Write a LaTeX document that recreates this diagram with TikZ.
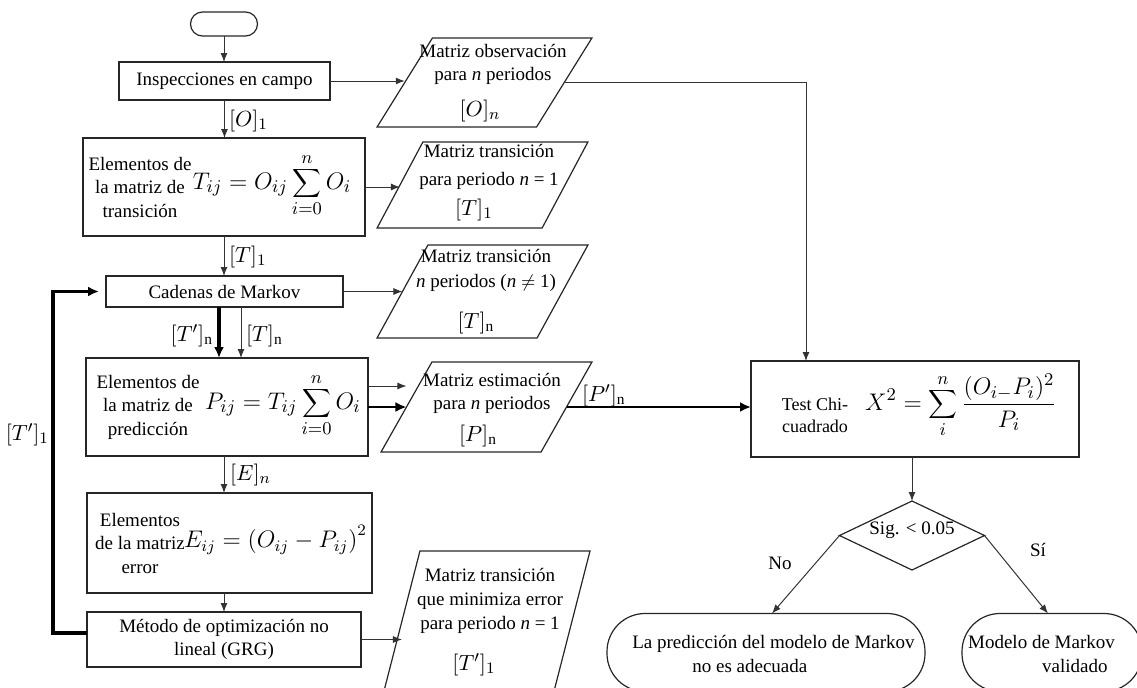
\documentclass[tikz,border=0pt]{standalone}
\usepackage{fontspec}
\setmainfont{Liberation Serif}
\newfontfamily\tnr{Liberation Serif}
\usetikzlibrary{shapes.geometric,arrows.meta}
\begin{document}
\begin{tikzpicture}[x=0.5pt,y=-0.5pt,
  every node/.style={inner sep=0pt, outer sep=0pt},
  txt/.style={font=\tnr\fontsize{9.5}{11.75}\selectfont, align=center},
  small/.style={font=\tnr\fontsize{9}{11}\selectfont},
  lbl/.style={font=\fontsize{11}{13}\selectfont},
  fml/.style={font=\fontsize{12.5}{14}\selectfont},
  box/.style={draw=black!85, line width=0.6pt, rectangle},
  io/.style={draw=black!85, line width=0.6pt, trapezium, trapezium stretches=true, inner sep=3pt},
  flow/.style={draw=black!80, line width=0.5pt, -{Latex[length=4.5pt,width=3.5pt]}},
  thickflow/.style={draw=black, line width=1.6pt, line join=miter, -{Latex[length=5.5pt,width=5pt]}},
]
\useasboundingbox (0,0) rectangle (1137,687);
\clip (0,0) rectangle (1137,687);

% ---- process column ----
\node[box, minimum width=33.5pt, minimum height=12pt, rounded corners=6pt] (start) at (224,24) {};
\node[box, txt, minimum width=105.5pt, minimum height=19pt] (insp) at (224.5,81) {Inspecciones en campo};

\node[box, minimum width=141pt, minimum height=49pt] (trans) at (224,187) {};
\node[txt] (transtx) at (140,187) {Elementos de\\la matriz de\\transición};
\node[fml] (transf) at (272,185) {$\displaystyle T_{ij} = O_{ij}\sum_{i=0}^{n} O_i$};

\node[box, txt, minimum width=118.5pt, minimum height=15.5pt] (markov) at (224.5,291.5) {Cadenas de Markov};

\node[box, minimum width=141pt, minimum height=49pt] (pred) at (227,407) {};
\node[txt] (predtx) at (148,407) {Elementos de\\la matriz de\\predicción};
\node[fml] (predf) at (283,405) {$\displaystyle P_{ij} = T_{ij}\sum_{i=0}^{n} O_i$};

\node[box, minimum width=142.5pt, minimum height=50pt] (err) at (229.5,543) {};
\node[txt] (errtx) at (140,543) {Elementos\\de la matriz\\error};
\node[fml, font=\fontsize{11.5}{14}\selectfont, anchor=east] (errf) at (367,540) {$E_{ij} = \bigl(O_{ij} - P_{ij}\bigr)^2$};

\node[box, txt, minimum width=137pt, minimum height=27.5pt] (opt) at (224,639.5) {Método de optimización no\\lineal (GRG)};

% ---- data (input/output) shapes ----
\node[io, trapezium left angle=62, trapezium right angle=118, minimum width=107.5pt, minimum height=44.5pt] (obs) at (484.5,82.5) {};
\node[txt, font=\tnr\fontsize{9.5}{11.5}\selectfont] (obstx) at (493,64.5) {Matriz observación\\para \textit{n} periodos};
\node[lbl] (obsl) at (480,111) {$[O]_n$};

\node[io, trapezium left angle=69, trapezium right angle=111, minimum width=105.5pt, minimum height=43pt] (tr1) at (482.5,185) {};
\node[txt, font=\tnr\fontsize{9.5}{14}\selectfont] (tr1tx) at (489,167) {Matriz transición\\para periodo \textit{n} = 1};
\node[lbl] (tr1l) at (474,210) {$[T]_1$};

\node[io, trapezium left angle=65, trapezium right angle=115, minimum width=105.5pt, minimum height=46.5pt] (trn) at (482.5,291.5) {};
\node[txt, font=\tnr\fontsize{9.5}{12.5}\selectfont] (trntx) at (486,270.5) {Matriz transición\\\textit{n} periodos (\textit{n} $\neq$ 1)};
\node[lbl] (trnl) at (476,323) {$[T]_{\mathrm{n}}$};

\node[io, trapezium left angle=65, trapezium right angle=115, minimum width=105.5pt, minimum height=45pt] (est) at (486.5,407) {};
\node[txt, font=\tnr\fontsize{9.5}{11.5}\selectfont] (esttx) at (492,393.5) {Matriz estimación\\para \textit{n} periodos};
\node[lbl] (estl) at (478,436) {$[P]_{\mathrm{n}}$};

\node[io, trapezium left angle=75, trapezium right angle=105, minimum width=103pt, minimum height=70pt] (tmin) at (487,621) {};
\node[txt, font=\tnr\fontsize{9.5}{12}\selectfont] (tmintx) at (490,601) {Matriz transición\\que minimiza error\\para periodo \textit{n} = 1};
\node[lbl] (tminl) at (474,665) {$[T']_1$};

% ---- validation ----
\node[box, minimum width=164pt, minimum height=48pt] (test) at (915,409) {};
\node[txt, small] (testtx) at (815,415) {Test Chi-\\cuadrado};
\node[fml] (testf) at (961,406) {$\displaystyle X^2 = \sum_{i}^{n}\frac{(O_{i-}P_i)^2}{P_i}$};

\node[draw=black!85, line width=0.6pt, diamond, minimum width=72.5pt, minimum height=34.5pt] (dia) at (912,535.5) {};
\node[txt] (diatx) at (912,530) {Sig. < 0.05};

\node[box, rounded corners=19pt, minimum width=159pt, minimum height=39pt] (termL) at (766,652.5) {};
\node[txt, align=left] (termLtx) at (773.5,654) {La predicción del modelo de Markov\\\hspace*{30pt}no es adecuada};
\node[box, rounded corners=19pt, minimum width=90pt, minimum height=39pt] (termR) at (1052,652.5) {};
\node[txt, align=left] (termRtx) at (1041.5,654) {Modelo de Markov\\\hspace*{37pt}validado};

\node[txt] (lno) at (780,563) {No};
\node[txt] (lsi) at (1038,550) {Sí};

% ---- connectors ----
\draw[flow] (start.south) -- (start.south |- insp.north);
\draw[flow] (insp.south) -- (insp.south |- trans.north);
\node[lbl, anchor=west] (lO1) at (229,121) {$[O]_1$};
\draw[flow] (insp.east) -- (insp.east -| obs.west);
\draw[flow] (trans.east) -- (trans.east -| tr1.west);
\draw[flow] (trans.south) -- (trans.south |- markov.north);
\node[lbl, anchor=west] (lT1) at (229,257) {$[T]_1$};
\draw[flow] (markov.east) -- (markov.east -| trn.west);

\draw[thickflow] ([xshift=-2.75pt]markov.south) -- ([xshift=-2.75pt]markov.south |- pred.north);
\node[lbl, anchor=east] (lTpn) at (213,336) {$[T']_{\mathrm{n}}$};
\draw[flow] ([xshift=8.25pt]markov.south) -- ([xshift=8.25pt]markov.south |- pred.north);
\node[lbl, anchor=west] (lTn) at (246,336) {$[T]_{\mathrm{n}}$};

\draw[flow] ([yshift=10.5pt]pred.east) -- ([yshift=10.5pt]pred.east -| est.west);
\draw[thickflow, line width=1.3pt] (pred.east) -- (pred.east -| est.west);

\draw[flow] (pred.south -| opt.north) -- (opt.north |- err.north);
\node[lbl, anchor=west] (lEn) at (230,475) {$[E]_n$};
\draw[flow] (err.south -| opt.north) -- (opt.north);
\draw[flow] (opt.east) -- (opt.east -| tmin.west);

\draw[thickflow] ([yshift=3.25pt]opt.west) -- ++(-17pt,0) |- ([xshift=-3.5pt]markov.west);
\node[lbl, anchor=east] (lTp1) at (49,435) {$[T']_1$};

\coordinate (tin) at ([xshift=-54.5pt]test.north);
\draw[flow] (obs.east) -| (tin);
\draw[thickflow, line width=1.3pt] (est.east) -- (est.east -| test.west);
\node[lbl, anchor=west] (lPpn) at (582,396) {$[P']_{\mathrm{n}}$};

\draw[flow] (test.south -| dia.north) -- (dia.north);
\draw[flow] (dia.west) -- ([xshift=3pt]termL.north);
\draw[flow] (dia.east) -- ([xshift=-2pt]termR.north);
\end{tikzpicture}
\end{document}
